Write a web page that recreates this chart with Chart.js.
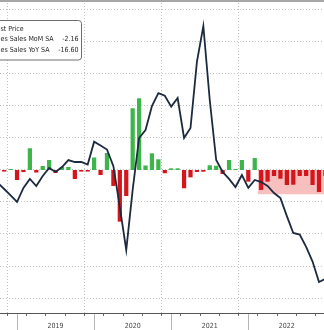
<!DOCTYPE html>
<html><head><meta charset="utf-8">
<script src="https://cdn.jsdelivr.net/npm/chart.js@4"></script>
<style>html,body{margin:0;padding:0;background:#fff;overflow:hidden}canvas{display:block}</style>
</head><body>
<canvas id="c" width="324" height="330"></canvas>
<script>
const months = [
  '2018-09','2018-10','2018-11','2018-12',
  '2019-01','2019-02','2019-03','2019-04','2019-05','2019-06','2019-07','2019-08','2019-09','2019-10','2019-11','2019-12',
  '2020-01','2020-02','2020-03','2020-04','2020-05','2020-06','2020-07','2020-08','2020-09','2020-10','2020-11','2020-12',
  '2021-01','2021-02','2021-03','2021-04','2021-05','2021-06','2021-07','2021-08','2021-09','2021-10','2021-11','2021-12',
  '2022-01','2022-02','2022-03','2022-04','2022-05','2022-06','2022-07','2022-08','2022-09','2022-10','2022-11','2022-12'
];
const momValues = [
  -0.10,-0.15,0.10,-0.95,
  -0.20,2.07,-0.24,0.38,0.95,-0.29,0.29,0.29,-0.86,-0.15,-0.15,1.19,
  -0.48,1.62,-1.52,-4.92,-2.48,5.88,6.83,0.43,1.59,1.02,-0.31,0.16,
  0.16,-1.74,-0.70,-0.19,-0.16,0.45,0.41,-0.38,0.95,0.10,0.95,-1.11,
  1.14,-1.90,-1.11,-0.57,-0.83,-1.43,-1.40,-0.57,-0.57,-1.43,-2.10,-0.57
];
const yoyValues = [
  -1.98,-2.97,-3.98,-5.00,
  -2.80,-1.40,-2.50,-0.94,0.31,-0.31,0.47,1.56,1.25,1.25,0.86,4.42,
  3.83,3.20,0.60,-5.80,-12.50,-3.10,5.00,6.25,10.00,12.00,11.60,9.90,
  11.25,5.00,6.56,16.90,22.50,10.90,1.56,-0.31,-1.40,-2.66,-0.78,-2.80,
  -1.56,-1.88,-2.50,-3.60,-4.40,-7.20,-9.84,-10.10,-12.00,-14.30,-17.50,-17.00
];
const yearLabels = ['2019','2020','2021','2022'];
const legendLabels = ['st Price','es Sales MoM SA','es Sales YoY SA'];
const legendValues = ['','-2.16','-16.60'];
const shadeMonths = ['2022-02','2022-12'];
const shadeLevel = -2.3;

function monthIndex(s){ const [y,m]=s.split('-').map(Number); return (y-2019)*12+m; }
const xs = months.map(monthIndex);
const barData = xs.map((x,i)=>({x, y: momValues[i]}));
const lineData = xs.map((x,i)=>({x, y: yoyValues[i]}));
const shadeData = [{x: monthIndex(shadeMonths[0])-0.5, y: shadeLevel},{x: monthIndex(shadeMonths[1])+0.5, y: shadeLevel}];

const GREEN='#3db54a', RED='#d4161c';
const LEGEND_FONT='7px "DejaVu Sans Condensed", "Liberation Sans", Arial, sans-serif';

const decor = {
  id:'decor',
  afterDraw(chart){
    const ctx=chart.ctx, sx=chart.scales.x, a=chart.chartArea;
    ctx.save();
    ctx.strokeStyle='#555'; ctx.lineWidth=1;
    ctx.beginPath(); ctx.moveTo(a.left, a.bottom+0.5); ctx.lineTo(a.right, a.bottom+0.5); ctx.stroke();
    ctx.strokeStyle='#b5b5b5';
    for(let v=0; v<=48; v+=12){
      const px=Math.round(sx.getPixelForValue(v))+0.5;
      if(px<a.left||px>a.right) continue;
      ctx.beginPath(); ctx.moveTo(px,a.bottom+1); ctx.lineTo(px,chart.height); ctx.stroke();
    }
    ctx.fillStyle='#a6a6a6'; ctx.fillRect(0,0,chart.width,2);
    ctx.beginPath(); ctx.roundRect(-6.5,20.5,88,39.5,3);
    ctx.fillStyle='#fff'; ctx.fill(); ctx.strokeStyle='#6e6e6e'; ctx.lineWidth=1; ctx.stroke();
    ctx.fillStyle='#262626'; ctx.font=LEGEND_FONT; ctx.textBaseline='middle';
    const ys=[29,39.5,50.5];
    legendLabels.forEach((t,i)=>{
      ctx.textAlign='left'; ctx.fillText(t,0.5,ys[i]);
      if(legendValues[i]){ ctx.textAlign='right'; ctx.fillText(legendValues[i],78.5,ys[i]); }
    });
    ctx.restore();
  }
};

new Chart(document.getElementById('c'), {
  type:'bar',
  data:{ datasets:[
    { type:'line', data: lineData, yAxisID:'y', borderColor:'#1b2a3f', borderWidth:1.8, pointRadius:0, tension:0, fill:false, order:1 },
    { type:'bar', data: barData, yAxisID:'yb', backgroundColor: barData.map(d=>d.y>=0?GREEN:RED), borderWidth:0, barPercentage:0.66, categoryPercentage:1, order:2 },
    { type:'line', data: shadeData, yAxisID:'yb', borderWidth:0, borderColor:'rgba(0,0,0,0)', backgroundColor:'#f8bfbf', pointRadius:0, fill:'origin', order:3 }
  ]},
  options:{
    responsive:false, animation:false, devicePixelRatio:1,
    layout:{padding:0},
    plugins:{legend:{display:false}, tooltip:{enabled:false}},
    scales:{
      x:{ type:'linear', min:-2.65, max:47.78, offset:false,
        afterBuildTicks: s=>{ const t=[]; for(let v=-3; v<=48; v+=3) if(v>=s.min&&v<=s.max) t.push({value:v}); s.ticks=t; },
        afterFit: s=>{ s.height=17; },
        grid:{ color: c=> (c.tick && c.tick.value%12===0) ? '#c2c2c2' : 'rgba(0,0,0,0)', lineWidth:1, drawTicks:true, tickLength:3, tickColor:'#666', tickBorderDash:[] },
        border:{ display:false, dash:[1,2] },
        ticks:{ autoSkip:false, maxRotation:0, padding:6, color:'#444', font:{family:'"DejaVu Sans Condensed", "Liberation Sans", Arial, sans-serif', size:7},
          callback: v => { const k=Math.round(v); return (k%12===6 && k>=6) ? yearLabels[(k-6)/12] || '' : ''; } }
      },
      y:{ position:'right', min:-143/6.4, max:170/6.4,
        afterBuildTicks: s=>{ const t=[]; for(let v=-20; v<=25; v+=5) t.push({value:v}); s.ticks=t; },
        afterFit: s=>{ s.width=0; },
        grid:{ color:'#c2c2c2', lineWidth:1, drawTicks:false },
        border:{ display:false, dash:[1,2] },
        ticks:{ display:false }
      },
      yb:{ display:false, min:-143/10.5, max:170/10.5 }
    }
  },
  plugins:[decor]
});
</script>
</body></html>
